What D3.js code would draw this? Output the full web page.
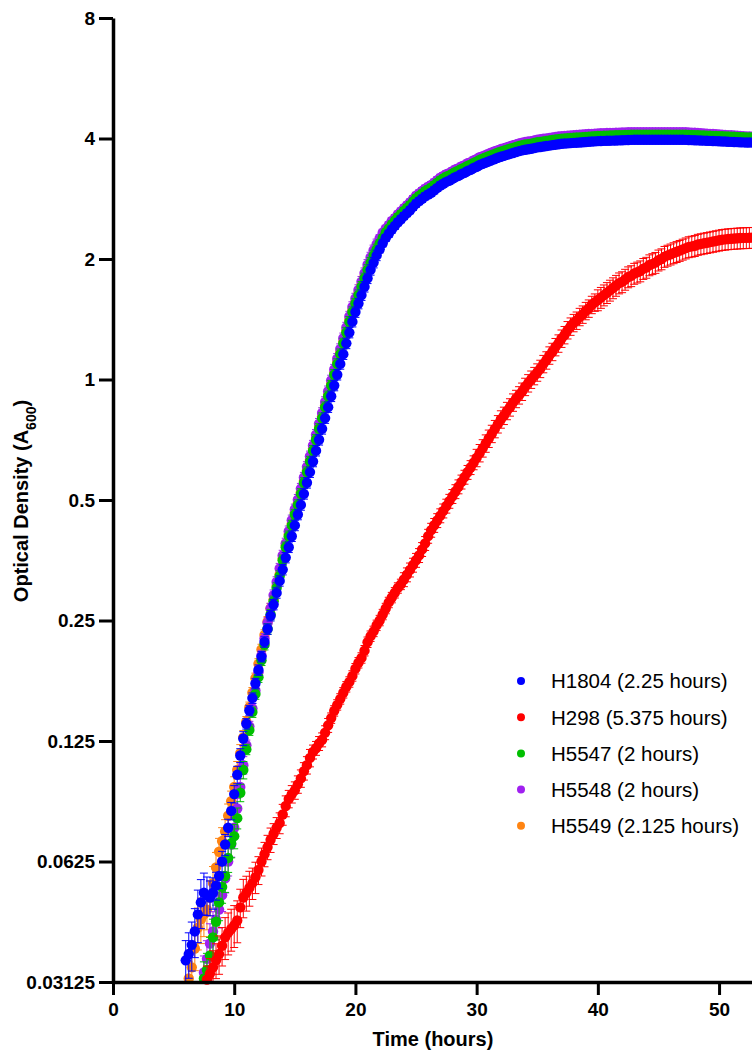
<!DOCTYPE html>
<html>
<head>
<meta charset="utf-8">
<script src="https://cdn.jsdelivr.net/npm/d3@7"></script>
<style>
  body { margin: 0; background: #fff; }
  svg { display: block; }
  text { font-family: "Liberation Sans", Arial, Helvetica, sans-serif; }
</style>
</head>
<body>
<svg id="chart" width="752" height="1052"></svg>
<script>
// Plate-reader growth curves: mean A600 every 15 min, with SD (percent of mean).
const SAMPLE_STEP_H = 0.25;

const xTicks = [0, 10, 20, 30, 40, 50];
const xTickLabels = ["0", "10", "20", "30", "40", "50"];
const yTicks = [0.03125, 0.0625, 0.125, 0.25, 0.5, 1, 2, 4, 8];
const yTickLabels = ["0.03125", "0.0625", "0.125", "0.25", "0.5", "1", "2", "4", "8"];

const strains = ["H1804", "H298", "H5547", "H5548", "H5549"];
const doublingLabels = ["2.25 hours", "5.375 hours", "2 hours", "2 hours", "2.125 hours"];
const strainColors = ["#0000ff", "#ff0000", "#00bf00", "#a020f0", "#ff8412"];
const firstReadH = [6.0, 7.75, 7.5, 7.5, 6.25];

const h1804OD = [
  0.0354, 0.0367, 0.0387, 0.0418,
  0.0461, 0.0494, 0.0522, 0.0515,
  0.0508, 0.0522, 0.0544, 0.0575,
  0.0625, 0.0689, 0.0759, 0.0836,
  0.0921, 0.1029, 0.1150, 0.1268,
  0.138, 0.149, 0.160, 0.174,
  0.188, 0.203, 0.221, 0.238,
  0.257, 0.274, 0.293, 0.314,
  0.335, 0.359, 0.381, 0.406,
  0.432, 0.460, 0.486, 0.518,
  0.552, 0.587, 0.624, 0.664,
  0.707, 0.753, 0.801, 0.853,
  0.908, 0.966, 1.028, 1.094,
  1.157, 1.231, 1.310, 1.395,
  1.474, 1.548, 1.625, 1.705,
  1.790, 1.879, 1.959, 2.042,
  2.114, 2.189, 2.258, 2.313,
  2.370, 2.420, 2.471, 2.514,
  2.560, 2.603, 2.648, 2.700,
  2.751, 2.789, 2.828, 2.868,
  2.898, 2.928, 2.969, 3.010,
  3.052, 3.084, 3.117, 3.138,
  3.171, 3.204, 3.227, 3.260,
  3.283, 3.317, 3.340, 3.375,
  3.399, 3.434, 3.458, 3.482,
  3.506, 3.531, 3.555, 3.580,
  3.600, 3.620, 3.640, 3.660,
  3.680, 3.700, 3.720, 3.735,
  3.750, 3.760, 3.770, 3.785,
  3.800, 3.810, 3.820, 3.830,
  3.840, 3.850, 3.860, 3.870,
  3.880, 3.885, 3.890, 3.895,
  3.900, 3.905, 3.910, 3.915,
  3.920, 3.925, 3.930, 3.935,
  3.940, 3.942, 3.945, 3.948,
  3.950, 3.952, 3.955, 3.958,
  3.960, 3.962, 3.965, 3.968,
  3.970, 3.970, 3.970, 3.970,
  3.970, 3.970, 3.970, 3.970,
  3.970, 3.970, 3.970, 3.970,
  3.970, 3.970, 3.970, 3.970,
  3.970, 3.968, 3.965, 3.962,
  3.960, 3.957, 3.954, 3.951,
  3.948, 3.945, 3.942, 3.939,
  3.936, 3.933, 3.930, 3.927,
  3.924, 3.921, 3.918, 3.915,
  3.912, 3.910, 3.908, 3.906
];
const h1804SD = [
  12, 13, 14, 14,
  15, 14, 12, 11,
  10, 9, 8, 7,
  6, 6, 5, 5,
  5, 5, 4, 4,
  3, 3, 3, 3,  3, 3, 3, 3,  3, 3, 3, 3,  3, 3, 3, 3,
  3, 3, 3, 3,  3, 3, 3, 3,  3, 3, 3, 3,  3, 3, 3, 3,
  3, 3, 3, 3,  3, 3, 3, 3,  3, 3, 3, 3,
  2, 2, 2, 2,  2, 2, 2, 2,  2, 2, 2, 2,  2, 2, 2, 2,
  2, 2, 2, 2,  2, 2, 2, 2,  2, 2, 2, 2,  2, 2, 2, 2,
  2, 2, 2, 2,  2, 2, 2, 2,  2, 2, 2, 2,  2, 2, 2, 2,
  2, 2, 2, 2,  2, 2, 2, 2,  2, 2, 2, 2,  2, 2, 2, 2,
  2, 2, 2, 2,  2, 2, 2, 2,  2, 2, 2, 2,  2, 2, 2, 2,
  2, 2, 2, 2,  2, 2, 2, 2,  2, 2, 2, 2,  2, 2, 2, 2,
  2, 2, 2, 2,  2, 2, 2, 2,  2, 2, 2, 2,  2, 2, 2, 2,
  2, 2, 2, 2,  2, 2, 2, 2,  2, 2, 2, 2
];

const h298OD = [
  0.0317,
  0.0328, 0.0340, 0.0354, 0.0367,
  0.0385, 0.0404, 0.0415, 0.0424,
  0.0433, 0.0445, 0.0480, 0.0508,
  0.0522, 0.0537, 0.0552, 0.0571,
  0.0595, 0.0625, 0.0652, 0.0679,
  0.0708, 0.0733, 0.0759, 0.0780,
  0.0819, 0.0860, 0.0896, 0.0921,
  0.0941, 0.0974, 0.1008, 0.1051,
  0.1088, 0.1134, 0.1174, 0.1199,
  0.1233, 0.1259, 0.1312, 0.1368,
  0.1426, 0.1487, 0.1539, 0.1593,
  0.1650, 0.1708, 0.1756, 0.1818,
  0.1895, 0.1961, 0.2016, 0.2102,
  0.2207, 0.2285, 0.2349, 0.2432,
  0.2500, 0.2588, 0.2679, 0.2774,
  0.2853, 0.2933, 0.3015, 0.3078,
  0.3164, 0.3253, 0.3345, 0.3439,
  0.3536, 0.3635, 0.3763, 0.3896,
  0.4061, 0.4204, 0.4323, 0.4444,
  0.4569, 0.4698, 0.4830, 0.4966,
  0.5105, 0.5249, 0.5397, 0.5548,
  0.5704, 0.5864, 0.6029, 0.6198,
  0.6373, 0.6552, 0.6736, 0.6925,
  0.7120, 0.7320, 0.7526, 0.7737,
  0.7955, 0.8123, 0.8351, 0.8526,
  0.8766, 0.8950, 0.9138, 0.9330,
  0.9593, 0.9794, 1.000, 1.021,
  1.042, 1.064, 1.094, 1.117,
  1.149, 1.173, 1.206, 1.231,
  1.266, 1.292, 1.329, 1.357,
  1.385, 1.404, 1.434, 1.454,
  1.484, 1.505, 1.537, 1.558,
  1.580, 1.602, 1.625, 1.647,
  1.670, 1.693, 1.717, 1.741,
  1.753, 1.778, 1.803, 1.815,
  1.840, 1.853, 1.866, 1.892,
  1.905, 1.932, 1.945, 1.959,
  1.986, 2.000, 2.028, 2.042,
  2.056, 2.071, 2.085, 2.099,
  2.114, 2.129, 2.144, 2.151,
  2.159, 2.174, 2.181, 2.189,
  2.196, 2.204, 2.212, 2.219,
  2.227, 2.235, 2.239, 2.244,
  2.247, 2.250, 2.253, 2.256,
  2.258, 2.259, 2.261, 2.262
];
const h298SD = [
  8,
  9, 10, 10, 11,
  11, 12, 12, 12,
  12, 12, 11, 11,
  10, 10, 9, 9,
  8, 8, 7, 7,
  7, 6, 6, 6,
  6, 6, 5, 5,
  5, 5, 5, 5,
  5, 5, 4, 4,
  4, 4, 4, 4,
  3, 3, 3, 3,  3, 3, 3, 3,  3, 3, 3, 3,
  3, 3, 3, 3,  3, 3, 3, 3,  3, 3, 3, 3,
  4, 4, 4, 4,  4, 4, 4, 4,  4, 4, 4, 4,
  4, 4, 4, 4,  4, 4, 4, 4,  4, 4, 4, 4,
  5, 5, 5, 5,  5, 5, 5, 5,  5, 5, 5, 5,  5, 5, 5, 5,  5, 5, 5, 5,
  5, 5, 5, 5,  5, 5, 5, 5,  5, 5, 5, 5,  5, 5, 5, 5,  5, 5, 5, 5,
  6, 6, 6, 6,  6, 6, 6, 6,  6, 6, 6, 6,  6, 6, 6, 6,
  6, 6, 6, 6,  6, 6, 6, 6,  6, 6, 6, 6,  6, 6, 6, 6,
  6, 6, 6, 6,  6, 6, 6, 6,  6, 6, 6, 6,  6, 6, 6, 6,
  6, 6, 6, 6
];

const h5547OD = [
  0.0319, 0.0335,
  0.0364, 0.0404, 0.0442, 0.0494,
  0.0540, 0.0575, 0.0638, 0.0694,
  0.0723, 0.0802, 0.0928, 0.1058,
  0.1191, 0.1331, 0.1476, 0.1638,
  0.1805, 0.1989, 0.2176, 0.2381,
  0.2588, 0.2793, 0.3015, 0.3230,
  0.3536, 0.381, 0.406, 0.432,
  0.460, 0.486, 0.518, 0.552,
  0.587, 0.624, 0.664, 0.707,
  0.753, 0.801, 0.853, 0.908,
  0.966, 1.028, 1.094, 1.157,
  1.231, 1.310, 1.395, 1.474,
  1.548, 1.625, 1.705, 1.790,
  1.879, 1.959, 2.042, 2.114,
  2.189, 2.258, 2.330, 2.382,
  2.441, 2.493, 2.545, 2.589,
  2.637, 2.681, 2.727, 2.781,
  2.834, 2.873, 2.913, 2.954,
  2.985, 3.016, 3.058, 3.100,
  3.144, 3.177, 3.211, 3.232,
  3.266, 3.300, 3.324, 3.358,
  3.381, 3.417, 3.440, 3.476,
  3.501, 3.537, 3.562, 3.586,
  3.611, 3.637, 3.662, 3.687,
  3.708, 3.729, 3.749, 3.770,
  3.790, 3.811, 3.832, 3.847,
  3.863, 3.873, 3.883, 3.899,
  3.914, 3.924, 3.935, 3.945,
  3.955, 3.966, 3.976, 3.986,
  3.996, 4.002, 4.007, 4.012,
  4.017, 4.022, 4.027, 4.032,
  4.038, 4.043, 4.048, 4.053,
  4.058, 4.060, 4.063, 4.066,
  4.069, 4.071, 4.074, 4.077,
  4.079, 4.081, 4.084, 4.087,
  4.089, 4.089, 4.089, 4.089,
  4.089, 4.089, 4.089, 4.089,
  4.089, 4.089, 4.089, 4.089,
  4.089, 4.089, 4.089, 4.089,
  4.089, 4.087, 4.084, 4.081,
  4.079, 4.076, 4.073, 4.070,
  4.066, 4.063, 4.060, 4.057,
  4.054, 4.051, 4.048, 4.045,
  4.042, 4.039, 4.036, 4.032,
  4.029, 4.027, 4.025, 4.023
];
const h5547SD = [
  10, 10,
  11, 11, 10, 10,
  9, 9, 8, 8,
  7, 6, 5, 5,
  3, 3, 3, 3,  3, 3, 3, 3,  3, 3, 3, 3,  3, 3, 3, 3,
  3, 3, 3, 3,  3, 3, 3, 3,  3, 3, 3, 3,  3, 3, 3, 3,
  3, 3, 3, 3,  3, 3, 3, 3,  3, 3, 3, 3,
  2, 2, 2, 2,  2, 2, 2, 2,  2, 2, 2, 2,  2, 2, 2, 2,
  2, 2, 2, 2,  2, 2, 2, 2,  2, 2, 2, 2,  2, 2, 2, 2,
  2, 2, 2, 2,  2, 2, 2, 2,  2, 2, 2, 2,  2, 2, 2, 2,
  2, 2, 2, 2,  2, 2, 2, 2,  2, 2, 2, 2,  2, 2, 2, 2,
  2, 2, 2, 2,  2, 2, 2, 2,  2, 2, 2, 2,  2, 2, 2, 2,
  2, 2, 2, 2,  2, 2, 2, 2,  2, 2, 2, 2,  2, 2, 2, 2,
  2, 2, 2, 2,  2, 2, 2, 2,  2, 2, 2, 2,  2, 2, 2, 2,
  2, 2, 2, 2,  2, 2, 2, 2,  2, 2, 2, 2
];

const h5548OD = [
  0.0330, 0.0357,
  0.0390, 0.0418, 0.0448, 0.0474,
  0.0515, 0.0567, 0.0625, 0.0689,
  0.0759, 0.0848, 0.0960, 0.1088,
  0.1220, 0.1359, 0.1507, 0.1672,
  0.1856, 0.2045, 0.2253, 0.2466,
  0.2679, 0.2893, 0.3121, 0.3371,
  0.3635, 0.3896, 0.418, 0.445,
  0.474, 0.501, 0.534, 0.569,
  0.605, 0.643, 0.684, 0.728,
  0.776, 0.825, 0.879, 0.935,
  0.995, 1.059, 1.127, 1.192,
  1.268, 1.349, 1.437, 1.518,
  1.594, 1.674, 1.756, 1.844,
  1.935, 2.018, 2.103, 2.177,
  2.255, 2.326, 2.380, 2.430,
  2.490, 2.530, 2.583, 2.628,
  2.677, 2.721, 2.768, 2.823,
  2.877, 2.916, 2.957, 2.998,
  3.030, 3.061, 3.104, 3.147,
  3.191, 3.225, 3.259, 3.280,
  3.315, 3.350, 3.374, 3.408,
  3.432, 3.468, 3.492, 3.528,
  3.554, 3.590, 3.615, 3.640,
  3.665, 3.692, 3.717, 3.742,
  3.764, 3.785, 3.805, 3.827,
  3.847, 3.868, 3.889, 3.905,
  3.921, 3.931, 3.941, 3.957,
  3.973, 3.983, 3.994, 4.004,
  4.014, 4.025, 4.036, 4.046,
  4.056, 4.062, 4.067, 4.072,
  4.077, 4.082, 4.087, 4.092,
  4.099, 4.104, 4.109, 4.114,
  4.119, 4.121, 4.124, 4.127,
  4.130, 4.132, 4.135, 4.138,
  4.140, 4.142, 4.145, 4.148,
  4.150, 4.150, 4.150, 4.150,
  4.150, 4.150, 4.150, 4.150,
  4.150, 4.150, 4.150, 4.150,
  4.150, 4.150, 4.150, 4.150,
  4.150, 4.146, 4.142, 4.138,
  4.134, 4.129, 4.124, 4.119,
  4.114, 4.109, 4.104, 4.099,
  4.094, 4.089, 4.084, 4.079,
  4.074, 4.069, 4.064, 4.059,
  4.054, 4.050, 4.046, 4.042
];
const h5548SD = [
  10, 11,
  12, 12, 11, 10,
  9, 8, 8, 7,
  6, 6, 5, 5,
  3, 3, 3, 3,  3, 3, 3, 3,  3, 3, 3, 3,  3, 3, 3, 3,
  3, 3, 3, 3,  3, 3, 3, 3,  3, 3, 3, 3,  3, 3, 3, 3,
  3, 3, 3, 3,  3, 3, 3, 3,  3, 3, 3, 3,
  2, 2, 2, 2,  2, 2, 2, 2,  2, 2, 2, 2,  2, 2, 2, 2,
  2, 2, 2, 2,  2, 2, 2, 2,  2, 2, 2, 2,  2, 2, 2, 2,
  2, 2, 2, 2,  2, 2, 2, 2,  2, 2, 2, 2,  2, 2, 2, 2,
  2, 2, 2, 2,  2, 2, 2, 2,  2, 2, 2, 2,  2, 2, 2, 2,
  2, 2, 2, 2,  2, 2, 2, 2,  2, 2, 2, 2,  2, 2, 2, 2,
  2, 2, 2, 2,  2, 2, 2, 2,  2, 2, 2, 2,  2, 2, 2, 2,
  2, 2, 2, 2,  2, 2, 2, 2,  2, 2, 2, 2,  2, 2, 2, 2,
  2, 2, 2, 2,  2, 2, 2, 2,  2, 2, 2, 2
];

const h5549OD = [
  0.0319, 0.0340, 0.0379,
  0.0427, 0.0448, 0.0461, 0.0474,
  0.0508, 0.0552, 0.0604, 0.0661,
  0.0703, 0.0743, 0.0813, 0.0884,
  0.0960, 0.1058, 0.1166, 0.1276,
  0.1397, 0.1518, 0.1650, 0.1793,
  0.1948, 0.2117, 0.2300, 0.2483,
  0.2679, 0.282, 0.305, 0.326,
  0.357, 0.385, 0.410, 0.436,
  0.465, 0.491, 0.523, 0.558,
  0.593, 0.630, 0.671, 0.714,
  0.761, 0.809, 0.862, 0.917,
  0.976, 1.038, 1.105, 1.169,
  1.243, 1.323, 1.409, 1.489,
  1.563, 1.641, 1.722, 1.808,
  1.898, 1.979, 2.062, 2.135,
  2.211, 2.281, 2.330, 2.370,
  2.420, 2.456, 2.508, 2.552,
  2.598, 2.642, 2.688, 2.741,
  2.792, 2.831, 2.870, 2.911,
  2.941, 2.972, 3.014, 3.055,
  3.098, 3.130, 3.164, 3.185,
  3.219, 3.252, 3.275, 3.309,
  3.332, 3.367, 3.390, 3.426,
  3.450, 3.486, 3.510, 3.534,
  3.559, 3.584, 3.608, 3.634,
  3.654, 3.674, 3.695, 3.715,
  3.735, 3.756, 3.776, 3.791,
  3.806, 3.816, 3.827, 3.842,
  3.857, 3.867, 3.877, 3.887,
  3.898, 3.908, 3.918, 3.928,
  3.938, 3.943, 3.948, 3.953,
  3.959, 3.964, 3.969, 3.974,
  3.979, 3.984, 3.989, 3.994,
  3.999, 4.001, 4.004, 4.007,
  4.009, 4.011, 4.014, 4.017,
  4.019, 4.021, 4.024, 4.027,
  4.030, 4.030, 4.030, 4.030,
  4.030, 4.030, 4.030, 4.030,
  4.030, 4.030, 4.030, 4.030,
  4.030, 4.030, 4.030, 4.030,
  4.030, 4.027, 4.024, 4.021,
  4.019, 4.016, 4.013, 4.010,
  4.007, 4.004, 4.001, 3.998,
  3.995, 3.992, 3.989, 3.986,
  3.983, 3.980, 3.977, 3.974,
  3.971, 3.969, 3.967, 3.965
];
const h5549SD = [
  10, 11, 12,
  12, 13, 12, 11,
  10, 10, 9, 8,
  8, 7, 7, 6,
  6, 5, 5, 4,
  3, 3, 3, 3,  3, 3, 3, 3,  3, 3, 3, 3,  3, 3, 3, 3,
  3, 3, 3, 3,  3, 3, 3, 3,  3, 3, 3, 3,  3, 3, 3, 3,
  3, 3, 3, 3,  3, 3, 3, 3,  3, 3, 3, 3,
  2, 2, 2, 2,  2, 2, 2, 2,  2, 2, 2, 2,  2, 2, 2, 2,
  2, 2, 2, 2,  2, 2, 2, 2,  2, 2, 2, 2,  2, 2, 2, 2,
  2, 2, 2, 2,  2, 2, 2, 2,  2, 2, 2, 2,  2, 2, 2, 2,
  2, 2, 2, 2,  2, 2, 2, 2,  2, 2, 2, 2,  2, 2, 2, 2,
  2, 2, 2, 2,  2, 2, 2, 2,  2, 2, 2, 2,  2, 2, 2, 2,
  2, 2, 2, 2,  2, 2, 2, 2,  2, 2, 2, 2,  2, 2, 2, 2,
  2, 2, 2, 2,  2, 2, 2, 2,  2, 2, 2, 2,  2, 2, 2, 2,
  2, 2, 2, 2,  2, 2, 2, 2,  2, 2, 2, 2
];

const odByStrain = [h1804OD, h298OD, h5547OD, h5548OD, h5549OD];
const sdByStrain = [h1804SD, h298SD, h5547SD, h5548SD, h5549SD];

// ---------------------------------------------------------------------------
const W = 752, H = 1052;
const plotLeft = 113, plotBottom = 982, plotTop = 18;

const x = d3.scaleLinear().domain([0, 52.8]).range([plotLeft, 753]);
const y = d3.scaleLog().base(2).domain([0.03125, 8]).range([plotBottom, plotTop]);

const svg = d3.select("#chart");
svg.append("defs").append("clipPath").attr("id", "plotArea")
  .append("rect").attr("x", plotLeft).attr("y", 0)
  .attr("width", W - plotLeft).attr("height", plotBottom);

const series = strains.map((name, k) => ({
  name,
  label: `${name} (${doublingLabels[k]})`,
  color: strainColors[k],
  points: odByStrain[k].map((v, i) => ({
    t: firstReadH[k] + i * SAMPLE_STEP_H,
    v,
    sd: v * (sdByStrain[k][i] ?? 0) / 100
  }))
}));

// later strains sit underneath; H1804 is painted last
const drawOrder = [4, 3, 2, 1, 0];
const marks = svg.append("g");
drawOrder.forEach(k => {
  const s = series[k];
  const g = marks.append("g");
  const bars = g.append("g")
    .attr("clip-path", "url(#plotArea)")
    .attr("stroke", s.color)
    .attr("stroke-width", 1)
    .attr("fill", "none");
  const cap = 4;
  bars.selectAll("path").data(s.points).join("path")
    .attr("d", p => {
      const cx = x(p.t), y1 = y(p.v + p.sd), y0 = y(Math.max(p.v - p.sd, 0.001));
      return `M${cx},${y0}V${y1}M${cx - cap},${y1}H${cx + cap}M${cx - cap},${y0}H${cx + cap}`;
    });
  g.append("g").selectAll("circle").data(s.points).join("circle")
    .attr("cx", p => x(p.t))
    .attr("cy", p => y(p.v))
    .attr("r", 5.2)
    .attr("fill", s.color);
});

// axes
const yAxis = d3.axisLeft(y)
  .tickValues(yTicks)
  .tickFormat((d, i) => yTickLabels[i])
  .tickSize(14).tickSizeOuter(0).tickPadding(4);
const gy = svg.append("g").attr("transform", `translate(${plotLeft},0)`).call(yAxis);

const xAxis = d3.axisBottom(x)
  .tickValues(xTicks)
  .tickFormat((d, i) => xTickLabels[i])
  .tickSize(13).tickSizeOuter(0).tickPadding(8);
const gx = svg.append("g").attr("transform", `translate(0,${plotBottom})`).call(xAxis);

[gy, gx].forEach(g => {
  g.select(".domain").attr("stroke", "#000").attr("stroke-width", 3.5);
  g.selectAll(".tick line").attr("stroke", "#000").attr("stroke-width", 3);
  g.selectAll(".tick text")
    .attr("fill", "#000")
    .style("font-family", '"Liberation Sans", Arial, sans-serif')
    .style("font-size", "19px")
    .style("font-weight", "bold");
});

// axis titles
svg.append("text")
  .attr("x", 433).attr("y", 1046)
  .attr("text-anchor", "middle")
  .style("font-size", "20px").style("font-weight", "bold")
  .text("Time (hours)");

const yTitle = svg.append("text")
  .attr("transform", "translate(28,501) rotate(-90)")
  .attr("text-anchor", "middle")
  .style("font-size", "20px").style("font-weight", "bold");
yTitle.append("tspan").text("Optical Density (A");
yTitle.append("tspan").attr("baseline-shift", "sub").style("font-size", "14px").text("600");
yTitle.append("tspan").text(")");

// legend
const legend = svg.append("g").attr("transform", "translate(521,681)");
series.forEach((s, i) => {
  const row = legend.append("g").attr("transform", `translate(0,${i * 36.2})`);
  row.append("circle").attr("r", 4).attr("fill", s.color);
  row.append("text")
    .attr("x", 30).attr("dy", "0.36em")
    .style("font-size", "20.5px")
    .attr("fill", "#000")
    .text(s.label);
});
</script>
</body>
</html>
